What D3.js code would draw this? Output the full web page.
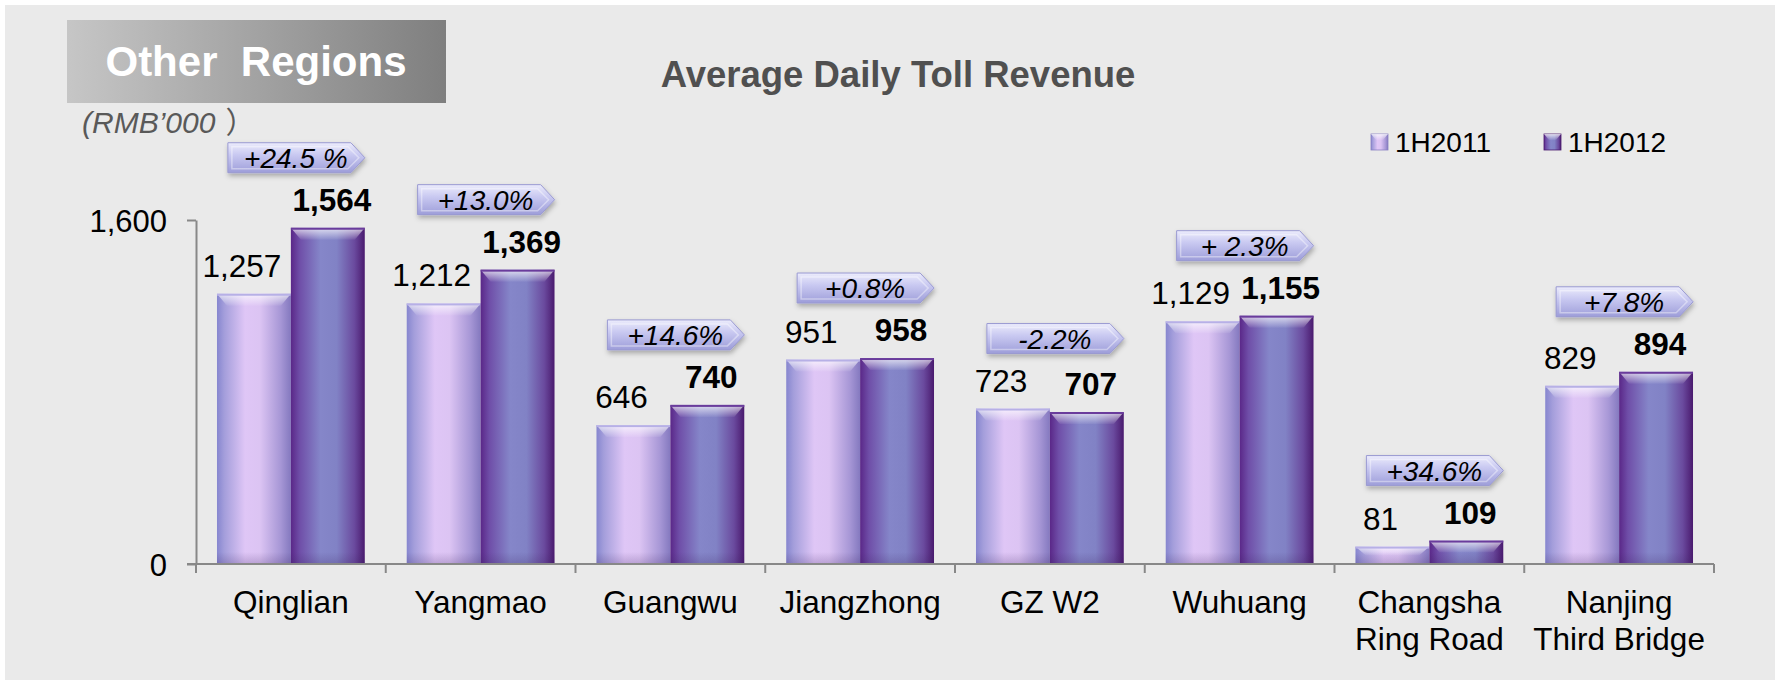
<!DOCTYPE html>
<html>
<head>
<meta charset="utf-8">
<script src="https://cdn.jsdelivr.net/npm/d3@7/dist/d3.min.js"></script>
<style>
  body { margin: 0; background: #fff; }
  svg { display: block; font-family: "Liberation Sans", Arial, sans-serif; }
</style>
</head>
<body>
<svg width="1775" height="680"></svg>
<script>
// data
var categories = ["Qinglian", "Yangmao", "Guangwu", "Jiangzhong", "GZ W2", "Wuhuang", "Changsha Ring Road", "Nanjing Third Bridge"];
var categoryLines = [["Qinglian"], ["Yangmao"], ["Guangwu"], ["Jiangzhong"], ["GZ W2"], ["Wuhuang"], ["Changsha", "Ring Road"], ["Nanjing", "Third Bridge"]];
var series = ["1H2011", "1H2012"];
var rev2011 = [1257, 1212, 646, 951, 723, 1129, 81, 829];
var rev2012 = [1564, 1369, 740, 958, 707, 1155, 109, 894];
var growth = ["+24.5 %", "+13.0%", "+14.6%", "+0.8%", "-2.2%", "+ 2.3%", "+34.6%", "+7.8%"];
var yTicks = [0, 1600];

var width = 1775, height = 680;
var margin = { left: 196, right: 61, top: 220, bottom: 116 };
var plotBottom = height - margin.bottom;   // 564

var svg = d3.select("svg");
var defs = svg.append("defs");

// background
svg.append("rect").attr("x", 5).attr("y", 5).attr("width", width - 5).attr("height", height - 5)
  .attr("fill", "#eaeaea");

// gradients
function hGrad(id, stops) {
  var g = defs.append("linearGradient").attr("id", id).attr("x1", "0%").attr("x2", "100%").attr("y1", "0%").attr("y2", "0%");
  stops.forEach(function(s) { g.append("stop").attr("offset", s[0]).attr("stop-color", s[1]); });
}
function vGrad(id, stops) {
  var g = defs.append("linearGradient").attr("id", id).attr("x1", "0%").attr("x2", "0%").attr("y1", "0%").attr("y2", "100%");
  stops.forEach(function(s) { g.append("stop").attr("offset", s[0]).attr("stop-color", s[1]).attr("stop-opacity", s[2] == null ? 1 : s[2]); });
}
hGrad("g2011", [["0%", "#8686cf"], ["10%", "#a49edb"], ["38%", "#dfc6f6"], ["58%", "#dcc4f3"], ["86%", "#a797d6"], ["100%", "#8479bf"]]);
hGrad("g2012", [["0%", "#5a2788"], ["12%", "#6f4ea8"], ["40%", "#8586c9"], ["62%", "#8182c5"], ["86%", "#6a4a9e"], ["100%", "#4a1a6e"]]);
hGrad("boxGrad", [["0%", "#c6c6c6"], ["100%", "#7f7f7f"]]);
vGrad("topShine", [["0%", "#ffffff", 0.75], ["100%", "#ffffff", 0.05]]);
vGrad("botShade", [["0%", "#3a2060", 0.0], ["100%", "#3a2060", 0.22]]);
vGrad("calloutGrad", [["0%", "#ececfc"], ["40%", "#c9c9f1"], ["100%", "#9d9dd9"]]);

var shadow = defs.append("filter").attr("id", "shadow").attr("x", "-20%").attr("y", "-30%").attr("width", "140%").attr("height", "180%");
shadow.append("feDropShadow").attr("dx", 1).attr("dy", 3).attr("stdDeviation", 2.5).attr("flood-color", "#000").attr("flood-opacity", 0.28);

// header box
svg.append("rect").attr("x", 67).attr("y", 20).attr("width", 379).attr("height", 83).attr("fill", "url(#boxGrad)");
svg.append("text").attr("x", 256).attr("y", 76).attr("text-anchor", "middle")
  .attr("font-size", 42).attr("font-weight", "bold").attr("fill", "#fff").text("Other  Regions").style("white-space", "pre");

var unit = svg.append("text").attr("x", 82).attr("y", 133).attr("font-size", 30).attr("font-style", "italic")
  .attr("fill", "#595959");
unit.append("tspan").text("(RMB\u2019000");
unit.append("tspan").attr("dx", 10).attr("font-family", "Noto Sans CJK SC").attr("font-style", "normal").text("\uff09");

svg.append("text").attr("x", 898).attr("y", 87).attr("text-anchor", "middle")
  .attr("font-size", 36.5).attr("font-weight", "bold").attr("fill", "#505050").text("Average Daily Toll Revenue");

// scales
var x0 = d3.scaleBand().domain(categories).range([margin.left, width - margin.right]).paddingInner(0).paddingOuter(0);
var x1 = d3.scaleBand().domain(series).range([0, x0.bandwidth()]).paddingInner(0).paddingOuter(0.284);
var y = d3.scaleLinear().domain([0, 1600]).range([plotBottom, margin.top]);

var rows = categories.map(function(c, i) {
  return { cat: c, lines: categoryLines[i], vals: [rev2011[i], rev2012[i]], growth: growth[i] };
});

// y axis
var yAxis = d3.axisLeft(y).tickValues(yTicks).tickFormat(d3.format(",")).tickSizeInner(9).tickSizeOuter(0).tickPadding(20);
var yg = svg.append("g").attr("transform", "translate(" + margin.left + ",0)").call(yAxis);
yg.select(".domain").attr("stroke", "#888").attr("stroke-width", 2);
yg.selectAll(".tick line").attr("stroke", "#888").attr("stroke-width", 2);
yg.selectAll(".tick text").attr("font-size", 31).attr("fill", "#000").attr("font-family", "Liberation Sans, Arial, sans-serif").attr("dy", "0.36em");

// bars
var groups = svg.append("g").selectAll("g.cat").data(rows).enter().append("g")
  .attr("transform", function(d) { return "translate(" + x0(d.cat) + ",0)"; });

var bars = groups.selectAll("g.bar").data(function(d) {
  return d.vals.map(function(v, j) { return { s: series[j], v: v, j: j }; });
}).enter().append("g");

bars.append("rect")
  .attr("x", function(d) { return x1(d.s); })
  .attr("y", function(d) { return y(d.v); })
  .attr("width", x1.bandwidth())
  .attr("height", function(d) { return plotBottom - y(d.v); })
  .attr("fill", function(d) { return d.j === 0 ? "url(#g2011)" : "url(#g2012)"; });

// top bevel
bars.append("path")
  .attr("d", function(d) {
    var bx = x1(d.s), by = y(d.v), w = x1.bandwidth(), h = Math.min(12, (plotBottom - y(d.v)) / 2);
    return "M" + bx + "," + by + "H" + (bx + w) + "L" + (bx + w - 10) + "," + (by + h) + "H" + (bx + 10) + "Z";
  })
  .attr("fill", "url(#topShine)");
bars.append("rect")
  .attr("x", function(d) { return x1(d.s); })
  .attr("y", function(d) { return y(d.v); })
  .attr("width", x1.bandwidth())
  .attr("height", 2)
  .attr("fill", function(d) { return d.j === 0 ? "#b7b0e6" : "#6a3c9c"; });
// bottom shading
bars.append("rect")
  .attr("x", function(d) { return x1(d.s); })
  .attr("y", function(d) { return Math.max(y(d.v), plotBottom - 12); })
  .attr("width", x1.bandwidth())
  .attr("height", function(d) { return Math.min(12, plotBottom - y(d.v)); })
  .attr("fill", "url(#botShade)");

// value labels
bars.append("text")
  .attr("x", function(d) { return x1(d.s) + x1.bandwidth() / 2 + (d.j === 0 ? -12 : 4); })
  .attr("y", function(d) { return y(d.v) - 17; })
  .attr("text-anchor", "middle")
  .attr("font-size", 31.5)
  .attr("font-weight", function(d) { return d.j === 1 ? "bold" : "normal"; })
  .attr("fill", "#000")
  .text(function(d) { return d3.format(",")(d.v); });

// growth callouts
var callouts = groups.append("g")
  .attr("transform", function(d) {
    var cx = x0.bandwidth() / 2 + 5;
    var bottom = y(d3.max(d.vals)) - 55;
    return "translate(" + (cx - 68) + "," + (bottom - 30) + ")";
  });
callouts.append("path")
  .attr("d", "M0,0H123L137,15L123,30H0Z")
  .attr("fill", "url(#calloutGrad)")
  .attr("stroke", "#9a9ad2")
  .attr("stroke-width", 1)
  .attr("filter", "url(#shadow)");
callouts.append("path")
  .attr("d", "M4,4H120L131,15L120,26H4Z")
  .attr("fill", "none")
  .attr("stroke", "#ffffff")
  .attr("stroke-opacity", 0.4)
  .attr("stroke-width", 1.5);
callouts.append("text")
  .attr("x", 68).attr("y", 25)
  .attr("text-anchor", "middle")
  .attr("font-size", 28).attr("font-style", "italic").attr("fill", "#000")
  .style("white-space", "pre")
  .text(function(d) { return d.growth; });

// x axis
var xg = svg.append("g");
xg.append("line").attr("x1", margin.left - 9).attr("x2", x0.range()[1]).attr("y1", plotBottom).attr("y2", plotBottom)
  .attr("stroke", "#888").attr("stroke-width", 2);
var boundaries = categories.map(function(c) { return x0(c); }).concat([x0.range()[1]]);
xg.selectAll("line.tick").data(boundaries).enter().append("line")
  .attr("x1", function(d) { return d; }).attr("x2", function(d) { return d; })
  .attr("y1", plotBottom).attr("y2", plotBottom + 9)
  .attr("stroke", "#888").attr("stroke-width", 2);

var catText = xg.selectAll("text.cat").data(rows).enter().append("text")
  .attr("text-anchor", "middle").attr("font-size", 31.5).attr("fill", "#000")
  .attr("x", function(d) { return x0(d.cat) + x0.bandwidth() / 2; })
  .attr("y", 613);
catText.selectAll("tspan").data(function(d) { return d.lines; }).enter().append("tspan")
  .attr("x", function() { var p = d3.select(this.parentNode).datum(); return x0(p.cat) + x0.bandwidth() / 2; })
  .attr("dy", function(d, i) { return i === 0 ? 0 : 37; })
  .text(function(d) { return d; });

// legend
var legendX = [1371, 1544];
var legend = svg.append("g").selectAll("g").data(series).enter().append("g")
  .attr("transform", function(d, i) { return "translate(" + legendX[i] + ",134)"; });
legend.append("rect").attr("width", 17).attr("height", 16)
  .attr("fill", function(d, i) { return i === 0 ? "url(#g2011)" : "url(#g2012)"; })
  .attr("stroke", function(d, i) { return i === 0 ? "#8a80c4" : "#4a1a6e"; }).attr("stroke-width", 0.8);
legend.append("path").attr("d", "M0,0H17L12,6H5Z").attr("fill", "url(#topShine)");
legend.append("text").attr("x", 24).attr("y", 18).attr("font-size", 28).attr("fill", "#000")
  .text(function(d) { return d; });
</script>
</body>
</html>
